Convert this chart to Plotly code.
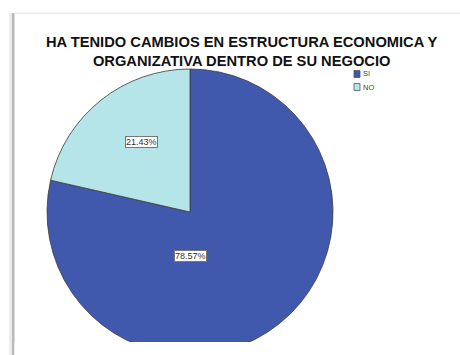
import plotly.graph_objects as go

# Chart content
title_lines = ["HA TENIDO CAMBIOS EN ESTRUCTURA ECONOMICA Y",
               "ORGANIZATIVA DENTRO DE SU NEGOCIO"]
categories = ["SI", "NO"]
percentages = [78.57, 21.43]
colors = ["#4059AD", "#B5E5E8"]

W, H = 460, 355

fig = go.Figure()

fig.add_trace(go.Pie(
    labels=categories,
    values=percentages,
    sort=False,
    direction="clockwise",
    rotation=0,
    marker=dict(colors=colors, line=dict(color="#3a3a3a", width=0.8)),
    textinfo="none",
    hoverinfo="label+percent",
    showlegend=False,
    domain=dict(x=[0.1022, 0.7239], y=[0.0, 286 / 355]),
))

shapes = []
# card frame: soft shadow on the left, faint top edge
shapes.append(dict(type="rect", xref="paper", yref="paper",
                   x0=9 / W, x1=12 / W, y0=0, y1=1 - 13 / H,
                   fillcolor="#ececec", line=dict(width=0), layer="above"))
shapes.append(dict(type="rect", xref="paper", yref="paper",
                   x0=12 / W, x1=14.5 / W, y0=0, y1=1 - 13 / H,
                   fillcolor="#b9b9b9", line=dict(width=0), layer="above"))
shapes.append(dict(type="rect", xref="paper", yref="paper",
                   x0=14.5 / W, x1=1, y0=1 - 14 / H, y1=1 - 12.5 / H,
                   fillcolor="#ebebeb", line=dict(width=0), layer="above"))
# chart area is cut off at the bottom
shapes.append(dict(type="rect", xref="paper", yref="paper",
                   x0=14.5 / W, x1=1, y0=0, y1=13 / H,
                   fillcolor="white", line=dict(width=0), layer="above"))

annotations = []
# title
annotations.append(dict(
    text="<b>" + "<br>".join(title_lines) + "</b>",
    xref="paper", yref="paper", x=242 / W, y=1 - 32 / H,
    xanchor="center", yanchor="top", showarrow=False, align="center",
    font=dict(family="Liberation Sans, Arial, sans-serif", size=14.7, color="#111111"),
))

# legend: small swatches with labels
legend_pos = [74, 87]
for cat, col, ly in zip(categories, colors, legend_pos):
    shapes.append(dict(type="rect", xref="paper", yref="paper",
                       x0=354 / W, x1=360 / W, y0=1 - (ly + 3.5) / H, y1=1 - (ly - 3.5) / H,
                       fillcolor=col, line=dict(color="#555555", width=0.8), layer="above"))
    annotations.append(dict(
        text=cat, xref="paper", yref="paper", x=361 / W, y=1 - ly / H,
        xanchor="left", yanchor="middle", showarrow=False,
        font=dict(family="Liberation Sans, Arial, sans-serif", size=7.5, color="#444444"),
    ))

# percentage labels in boxes
label_pos = [(190, 256), (141, 142)]
total = sum(percentages)
for val, (lx, ly) in zip(percentages, label_pos):
    annotations.append(dict(
        text=f"{val / total * 100:.2f}%",
        xref="paper", yref="paper", x=lx / W, y=1 - ly / H,
        xanchor="center", yanchor="middle", showarrow=False,
        bgcolor="white", bordercolor="#777777", borderwidth=1, borderpad=0,
        font=dict(family="Liberation Sans, Arial, sans-serif", size=9, color="#333333"),
    ))

fig.update_layout(
    width=W, height=H,
    margin=dict(l=0, r=0, t=0, b=0),
    paper_bgcolor="white",
    plot_bgcolor="white",
    shapes=shapes,
    annotations=annotations,
)

fig.write_html("out.html")
